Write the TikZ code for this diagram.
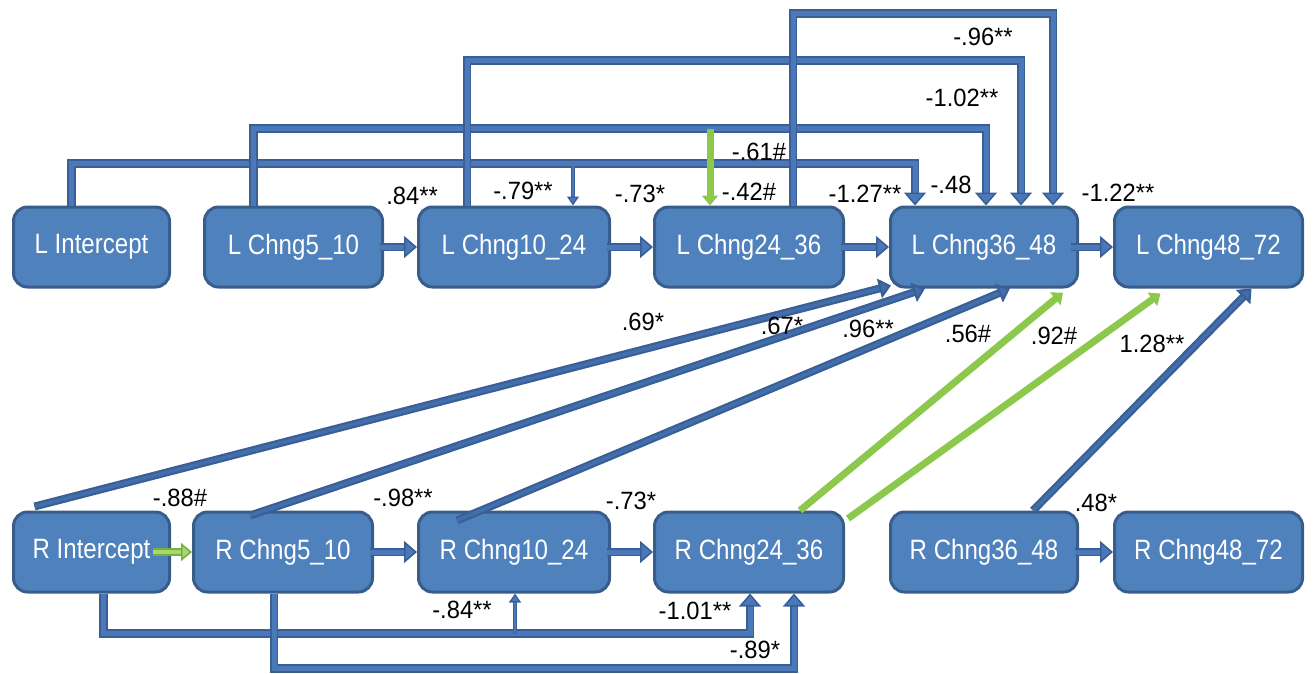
\documentclass[tikz,border=0pt]{standalone}
\usepackage{fontspec}
\setmainfont{Liberation Sans}
\newfontfamily\boxfont[FakeStretch=0.86]{Liberation Sans}
\newfontfamily\labfont[FakeStretch=0.95]{Liberation Sans}
\usetikzlibrary{arrows.meta}
\definecolor{boxfill}{HTML}{4F81BD}
\definecolor{boxline}{HTML}{385D8A}
\definecolor{lineout}{HTML}{3A5F96}
\definecolor{linein}{HTML}{4A78B8}
\definecolor{dlinein}{HTML}{426EAB}
\definecolor{gline}{HTML}{8CC84B}
\definecolor{glineout}{HTML}{77B041}
\definecolor{glinein}{HTML}{A6D86E}
\begin{document}
\begin{tikzpicture}[x=1pt,y=-1pt,
  box/.style={draw=boxline, line width=3pt, fill=boxfill, rounded corners=14pt,
    minimum height=80pt, inner sep=0pt, text=white,
    font=\boxfont\fontsize{28}{32}\selectfont},
  lab/.style={font=\labfont\fontsize{25}{29}\selectfont, text=black, inner sep=0pt},
  conn/.style={draw=lineout, double=linein, double distance=5pt, line width=1.6pt,
    -{Triangle[width=22pt,length=13pt,fill=linein]}},
  dconn/.style={draw=lineout, double=dlinein, double distance=3.5pt, line width=2.2pt,
    -{Triangle[width=20pt,length=12pt,fill=dlinein]}},
  thinconn/.style={draw=lineout, double=linein, double distance=1.5pt, line width=1.3pt,
    -{Triangle[width=12pt,length=9pt,fill=linein]}},
  gconn/.style={draw=gline, line width=7pt, -{Triangle[width=16pt,length=10pt]}},
  gdouble/.style={draw=glineout, double=glinein, double distance=4.5pt, line width=1.6pt,
    -{Triangle[width=18pt,length=11pt,fill=glinein]}},
]
\useasboundingbox (0,0) rectangle (1314,673);

% top row
\node[box, minimum width=156pt] (LI)  at (91.5,247)  {L Intercept};
\node[box, minimum width=178pt] (L5)  at (293.5,247) {L Chng5\_10};
\node[box, minimum width=191pt] (L10) at (514,247)   {L Chng10\_24};
\node[box, minimum width=189pt] (L24) at (749,247)   {L Chng24\_36};
\node[box, minimum width=187pt] (L36) at (984,247)   {L Chng36\_48};
\node[box, minimum width=188pt] (L48) at (1208.5,247){L Chng48\_72};
% bottom row
\node[box, minimum width=156pt] (RI)  at (91.5,552)  {R Intercept};
\node[box, minimum width=179pt] (R5)  at (283,552)   {R Chng5\_10};
\node[box, minimum width=191pt] (R10) at (514,552)   {R Chng10\_24};
\node[box, minimum width=189pt] (R24) at (749,552)   {R Chng24\_36};
\node[box, minimum width=187pt] (R36) at (984,552)   {R Chng36\_48};
\node[box, minimum width=188pt] (R48) at (1208.5,552){R Chng48\_72};

% top horizontal arrows
\draw[conn] ([xshift=-4pt]L5.east) -- (L10.west);
\draw[conn] ([xshift=-4pt]L10.east) -- (L24.west);
\draw[conn] ([xshift=-4pt]L24.east) -- (L36.west);
\draw[conn] ([xshift=-8pt]L36.east) -- (L48.west);

% top elbows
\draw[conn] ([xshift=-20pt]LI.north) -- ++(0,-42) -| ([xshift=-69pt]L36.north);
\draw[thinconn] ([xshift=59pt,yshift=40pt]L10.north) -- ([xshift=59pt]L10.north);
\draw[conn] ([xshift=-40pt]L5.north) -- ++(0,-77) -| ([xshift=2pt]L36.north);
\draw[conn] ([xshift=-47pt]L10.north) -- ++(0,-145) -| ([xshift=37pt]L36.north);
\draw[gconn] ([xshift=-39pt,yshift=77pt]L24.north) -- ([xshift=-39pt]L24.north);
\draw[conn] ([xshift=44pt]L24.north) -- ++(0,-192) -| ([xshift=69pt]L36.north);

% diagonals
\draw[dconn] ([xshift=-57pt,yshift=4pt]RI.north) -- ([xshift=2pt,yshift=3pt]L36.south west);
\draw[dconn] ([xshift=-33pt,yshift=-5pt]R5.north) -- ([xshift=-59pt]L36.south);
\draw[dconn] ([xshift=-57pt,yshift=-10pt]R10.north) -- ([xshift=26pt]L36.south);
\draw[dconn] ([xshift=49pt]R36.north) -- ([xshift=43pt]L48.south);
\draw[gconn] ([xshift=51pt]R24.north) -- ([xshift=79pt,yshift=-4pt]L36.south);
\draw[gconn] ([xshift=3pt,yshift=-8pt]R24.north east) -- ([xshift=-48pt,yshift=-5pt]L48.south);

% bottom horizontal arrows
\draw[gdouble] ([xshift=-18pt]RI.east) -- (R5.west);
\draw[conn] ([xshift=-4pt]R5.east) -- (R10.west);
\draw[conn] ([xshift=-4pt]R10.east) -- (R24.west);
\draw[conn] ([xshift=-4pt]R36.east) -- (R48.west);

% bottom elbows
\draw[conn] ([xshift=12pt]RI.south) -- ++(0,40) -| ([xshift=1pt]R24.south);
\draw[thinconn] ([xshift=1pt,yshift=-40pt]R10.south) -- ([xshift=1pt]R10.south);
\draw[conn] ([xshift=-9pt]R5.south) -- ++(0,75) -| ([xshift=45pt]R24.south);

% labels
\node[lab] (t1)  at (412,196)  {.84**};
\node[lab] (t2)  at (523,191)  {-.79**};
\node[lab] (t3)  at (640,194)  {-.73*};
\node[lab] (t4)  at (749,192)  {-.42\#};
\node[lab] (t5)  at (759,152)  {-.61\#};
\node[lab] (t6)  at (865,194)  {-1.27**};
\node[lab] (t7)  at (951,185)  {-.48};
\node[lab] (t8)  at (962,98)   {-1.02**};
\node[lab] (t9)  at (983,37)   {-.96**};
\node[lab] (t10) at (1118,193) {-1.22**};
\node[lab] (t11) at (643,322)  {.69*};
\node[lab] (t12) at (782,326)  {.67*};
\node[lab] (t13) at (868,329)  {.96**};
\node[lab] (t14) at (968,334)  {.56\#};
\node[lab] (t15) at (1054,336) {.92\#};
\node[lab] (t16) at (1152,344) {1.28**};
\node[lab] (t17) at (180,498)  {-.88\#};
\node[lab] (t18) at (403,498)  {-.98**};
\node[lab] (t19) at (631,501)  {-.73*};
\node[lab] (t20) at (1096,503) {.48*};
\node[lab] (t21) at (462,610)  {-.84**};
\node[lab] (t22) at (695,611)  {-1.01**};
\node[lab] (t23) at (755,650)  {-.89*};
\end{tikzpicture}
\end{document}
